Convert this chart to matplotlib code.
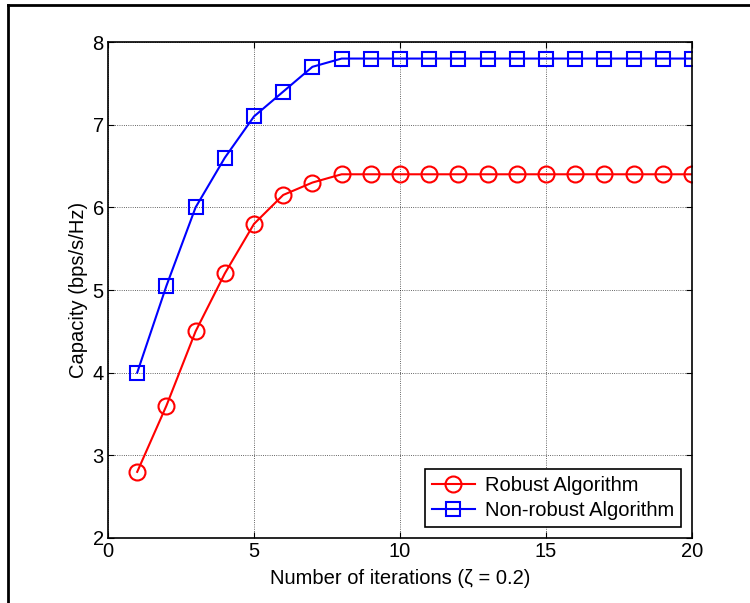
import matplotlib.pyplot as plt
from matplotlib.lines import Line2D

plt.rcParams['font.family'] = ['Liberation Sans', 'DejaVu Sans']

iterations = list(range(1, 21))
robust = [2.8, 3.6, 4.5, 5.2, 5.8, 6.15, 6.3, 6.4, 6.4, 6.4,
          6.4, 6.4, 6.4, 6.4, 6.4, 6.4, 6.4, 6.4, 6.4, 6.4]
non_robust = [4.0, 5.05, 6.0, 6.6, 7.1, 7.4, 7.7, 7.8, 7.8, 7.8,
              7.8, 7.8, 7.8, 7.8, 7.8, 7.8, 7.8, 7.8, 7.8, 7.8]
x_ticks = [0, 5, 10, 15, 20]
y_ticks = [2, 3, 4, 5, 6, 7, 8]

fig = plt.figure(figsize=(7.5, 6.03), dpi=100)
ax = fig.add_axes([0.144, 0.1078, 0.7787, 0.8225])

ax.plot(iterations, robust, color='red', lw=1.5, marker='o', ms=11.5,
        mfc='none', mew=1.5, label='Robust Algorithm')
ax.plot(iterations, non_robust, color='blue', lw=1.5, marker='s', ms=10,
        mfc='none', mew=1.5, label='Non-robust Algorithm')

ax.set_xlim(0, 20)
ax.set_ylim(2, 8)
ax.set_xticks(x_ticks)
ax.set_yticks(y_ticks)
ax.tick_params(direction='in', labelsize=14.5, length=4, top=True, right=True,
               pad=3)
ax.grid(True, color='black', linestyle=':', linewidth=0.6, alpha=0.8)
for s in ax.spines.values():
    s.set_linewidth(1.2)

ax.set_xlabel('Number of iterations (\u03b6 = 0.2)', fontsize=14.5, labelpad=6)
ax.set_ylabel('Capacity (bps/s/Hz)', fontsize=14.5, labelpad=3)

leg = ax.legend(loc='lower right', fontsize=14.5, fancybox=False, framealpha=1,
                edgecolor='black', borderaxespad=0.55, handlelength=2.1,
                handletextpad=0.5, borderpad=0.35, labelspacing=0.3)
leg.get_frame().set_linewidth(1.2)

# outer frame (left and top edges visible)
fig.add_artist(Line2D([8 / 750, 8 / 750], [0, 1 - 5 / 603], color='black', lw=2))
fig.add_artist(Line2D([8 / 750, 1], [1 - 5 / 603, 1 - 5 / 603], color='black', lw=2))

fig.savefig('out.png', dpi=100)
